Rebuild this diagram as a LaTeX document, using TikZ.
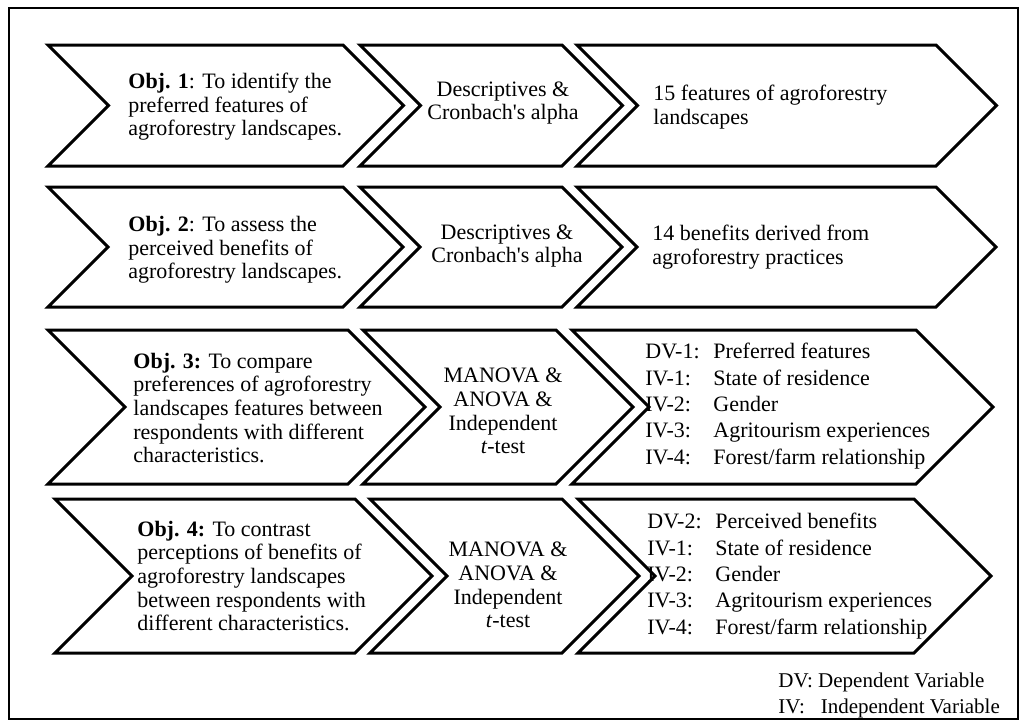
\documentclass[tikz,border=0pt]{standalone}
\usepackage{fontspec}
\setmainfont{Liberation Serif}
\usepackage{tikz}

\tikzset{
  chev/.style={line width=1.5pt, line join=miter},
  txt/.style={inner sep=0pt, align=left, anchor=west, font=\fontsize{11}{11.8}\selectfont},
  mid/.style={inner sep=0pt, align=center, font=\fontsize{11}{11.8}\selectfont},
  vars/.style={inner sep=0pt, align=left, anchor=west, font=\fontsize{11}{13.2}\selectfont},
  note/.style={inner sep=0pt, anchor=west, font=\fontsize{10.5}{12}\selectfont},
}
\newcommand{\lbl}[1]{\makebox[34pt][l]{#1}}

\begin{document}
\begin{tikzpicture}[x=0.5pt,y=-0.5pt]
            \useasboundingbox (0,0) rectangle (1022,723);
            \draw[line width=0.8pt] (9,8) rectangle (1018,719);

            % chevrons: left / right corner / top / bottom
            \foreach \xl/\xr/\yt/\yb in {48/343/45/166, 360/562/45/166, 577/936/45/166,
                48/343/187/307, 360/562/187/307, 577/936/187/307,
                48/348/330/484, 363/556/330/484, 572/916/330/484,
                55/355/499/653, 370/562/499/653, 578/914/499/653}
            \draw[chev] (\xl,\yt) -- (\xr,\yt) -- ({\xr+(\yb-\yt)/2},{(\yt+\yb)/2})
                -- (\xr,\yb) -- (\xl,\yb) -- ({\xl+(\yb-\yt)/2},{(\yt+\yb)/2}) -- cycle;

            % objectives
            \node[txt] (obj1) at (128,107) {\textbf{Obj. 1}: To identify the\\preferred features of\\agroforestry landscapes.};
            \node[txt] (obj2) at (128,250) {\textbf{Obj. 2}: To assess the\\perceived benefits of\\agroforestry landscapes.};
            \node[txt] (obj3) at (133,408) {\textbf{Obj. 3:} To compare\\preferences of agroforestry\\landscapes features between\\respondents with different\\characteristics.};
            \node[txt] (obj4) at (137,576) {\textbf{Obj. 4:} To contrast\\perceptions of benefits of\\agroforestry landscapes\\between respondents with\\different characteristics.};

            % methods
            \node[mid] (meth1) at (503,103) {Descriptives \&\\Cronbach\textquotesingle s alpha};
            \node[mid] (meth2) at (507,246) {Descriptives \&\\Cronbach\textquotesingle s alpha};
            \node[mid] (meth3) at (503,411) {MANOVA \&\\ANOVA \&\\Independent\\\textit{t}-test};
            \node[mid] (meth4) at (508,585) {MANOVA \&\\ANOVA \&\\Independent\\\textit{t}-test};

            % results
            \node[txt] (res1) at (653,107) {15 features of agroforestry\\landscapes};
            \node[txt] (res2) at (652,247) {14 benefits derived from\\agroforestry practices};
            \node[vars] (res3) at (645,406) {\lbl{DV-1:}Preferred features\\\lbl{IV-1:}State of residence\\\lbl{IV-2:}Gender\\\lbl{IV-3:}Agritourism experiences\\\lbl{IV-4:}Forest/farm relationship};
            \node[vars] (res4) at (647,576) {\lbl{DV-2:}Perceived benefits\\\lbl{IV-1:}State of residence\\\lbl{IV-2:}Gender\\\lbl{IV-3:}Agritourism experiences\\\lbl{IV-4:}Forest/farm relationship};

            % legend
            \node[note] (dv) at (778,682) {DV: Dependent Variable};
            \node[note] (iv) at (778,708) {IV:\hspace{8pt}Independent Variable};
        \end{tikzpicture}
\end{document}
